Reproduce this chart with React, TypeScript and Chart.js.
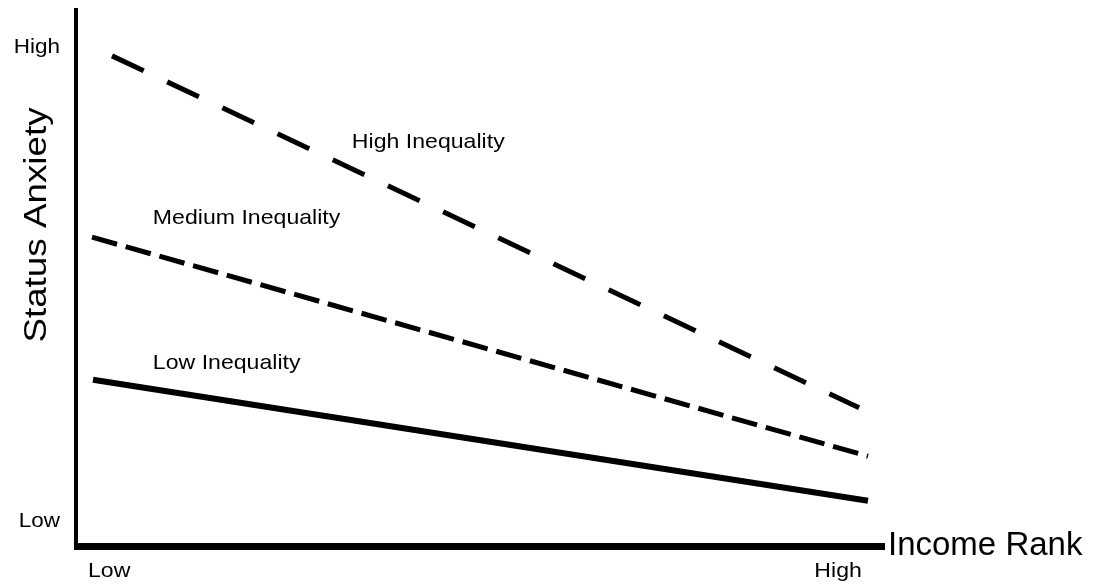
import React, { useEffect, useRef } from "react";
import { Chart, registerables } from "chart.js";

Chart.register(...registerables);

// Data (x: income rank 0-100, y: status anxiety 0-100)
const highX = [4.45, 96.8];
const highY = [91.1, 25.7];
const mediumX = [1.98, 97.9];
const mediumY = [57.4, 16.7];
const lowX = [2.1, 97.9];
const lowY = [30.9, 8.4];

const seriesNames = ["High Inequality", "Medium Inequality", "Low Inequality"];
const labelX = [34.1, 9.5, 9.5];
const labelY = [75.0, 61.0, 34.0];

const xTickValues = [4.1, 94.2];
const xTickLabels = ["Low", "High"];
const yTickValues = [92.75, 4.6];
const yTickLabels = ["High", "Low"];

const xTitle = "Income Rank";
const yTitle = "Status Anxiety";

const FONT = "'Liberation Sans', Arial, sans-serif";

function stretchText(ctx: any, text: string, x: number, y: number, sx: number) {
  ctx.save();
  ctx.translate(x, y);
  ctx.scale(sx, 1);
  ctx.fillText(text, 0, 0);
  ctx.restore();
}

const decorPlugin = {
  id: "decor",
  afterDatasetsDraw(chart: any) {
    const ctx = chart.ctx;
    const { left, right, top, bottom } = chart.chartArea;
    const xs = chart.scales.x;
    const ys = chart.scales.y;
    ctx.save();
    // axes
    ctx.fillStyle = "#000";
    ctx.fillRect(left - 2, top, 4, bottom - top + 4);
    ctx.fillRect(left - 2, bottom - 3, right - left + 2, 7);

    // series labels
    ctx.font = `21px ${FONT}`;
    ctx.textAlign = "left";
    ctx.textBaseline = "middle";
    seriesNames.forEach((n, i) => {
      stretchText(ctx, n, xs.getPixelForValue(labelX[i]), ys.getPixelForValue(labelY[i]), 1.1);
    });

    // x ticks
    ctx.textAlign = "center";
    ctx.textBaseline = "middle";
    xTickValues.forEach((v, i) => {
      stretchText(ctx, xTickLabels[i], xs.getPixelForValue(v), bottom + 25, 1.1);
    });
    // y ticks
    ctx.textAlign = "right";
    yTickValues.forEach((v, i) => {
      stretchText(ctx, yTickLabels[i], left - 16, ys.getPixelForValue(v), 1.07);
    });

    // x title
    ctx.font = `33px ${FONT}`;
    ctx.textAlign = "left";
    ctx.textBaseline = "middle";
    ctx.fillText(xTitle, right + 3, bottom);

    // y title
    ctx.save();
    ctx.translate(37, 225);
    ctx.rotate(-Math.PI / 2);
    ctx.scale(1.15, 1);
    ctx.font = `32px ${FONT}`;
    ctx.textAlign = "center";
    ctx.textBaseline = "middle";
    ctx.fillText(yTitle, 0, 0);
    ctx.restore();

    ctx.restore();
  },
};

export default function App() {
  const ref = useRef<HTMLCanvasElement | null>(null);
  useEffect(() => {
    if (!ref.current) return;
    const toPts = (xs: number[], ys: number[]) => xs.map((x, i) => ({ x, y: ys[i] }));
    const chart = new Chart(ref.current, {
      type: "line",
      data: {
        datasets: [
          {
            label: seriesNames[0],
            data: toPts(highX, highY),
            borderColor: "#000",
            borderWidth: 5,
            borderDash: [35, 26],
            pointRadius: 0,
            borderCapStyle: "butt",
          },
          {
            label: seriesNames[1],
            data: toPts(mediumX, mediumY),
            borderColor: "#000",
            borderWidth: 5,
            borderDash: [26, 9],
            pointRadius: 0,
            borderCapStyle: "butt",
          },
          {
            label: seriesNames[2],
            data: toPts(lowX, lowY),
            borderColor: "#000",
            borderWidth: 6,
            pointRadius: 0,
            borderCapStyle: "butt",
          },
        ],
      },
      options: {
        animation: false,
        responsive: true,
        maintainAspectRatio: false,
        layout: { padding: { left: 76, top: 8, right: 214, bottom: 42 } },
        plugins: { legend: { display: false }, tooltip: { enabled: false } },
        scales: {
          x: { type: "linear", min: 0, max: 100, display: false },
          y: { type: "linear", min: 0, max: 100, display: false },
        },
      },
      plugins: [decorPlugin],
    });
    return () => chart.destroy();
  }, []);
  return (
    <div style={{ position: "absolute", left: 0, top: 0, width: 1099, height: 588, background: "#fff" }}>
      <canvas ref={ref} />
    </div>
  );
}
